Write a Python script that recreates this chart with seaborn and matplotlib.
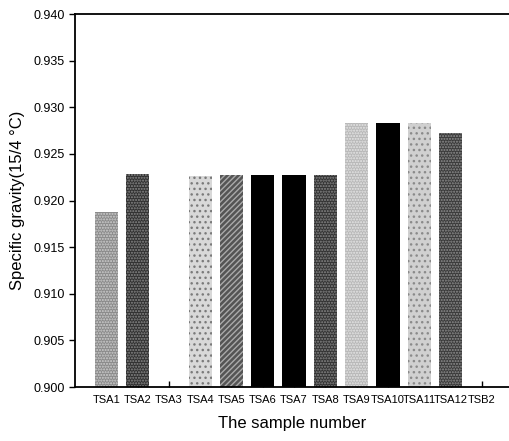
import matplotlib
matplotlib.use("Agg")
import matplotlib.pyplot as plt
import seaborn as sns
import numpy as np
import pandas as pd

samples = ["TSA1", "TSA2", "TSA3", "TSA4", "TSA5", "TSA6", "TSA7", "TSA8",
           "TSA9", "TSA10", "TSA11", "TSA12", "TSB2"]
gravity = [0.9188, 0.9228, 0.900, 0.9226, 0.9227, 0.9227, 0.9227, 0.9227,
           0.9283, 0.9283, 0.9283, 0.9273, 0.900]
fills = ["#8a8a8a", "#303030", "#ffffff", "#d8d8d8", "#555555", "#000000", "#000000",
         "#333333", "#b8b8b8", "#000000", "#d0d0d0", "#3a3a3a", "#ffffff"]
hatches = ["......", "......", "", "...", "//////", "", "", "......", "......", "", "...", "......", ""]
hatch_cols = ["#cfcfcf", "#8a8a8a", "#ffffff", "#7a7a7a", "#aaaaaa", "#000000", "#000000",
              "#888888", "#e6e6e6", "#000000", "#8a8a8a", "#909090", "#ffffff"]
yticks = [0.900, 0.905, 0.910, 0.915, 0.920, 0.925, 0.930, 0.935, 0.940]

sns.set_style("ticks")
plt.rcParams['font.family'] = ['Liberation Sans', 'DejaVu Sans']
plt.rcParams['hatch.linewidth'] = 1.0
plt.rcParams['text.color'] = 'black'
plt.rcParams['axes.labelcolor'] = 'black'
plt.rcParams['xtick.color'] = 'black'
plt.rcParams['ytick.color'] = 'black'

df = pd.DataFrame({"sample": samples, "gravity": gravity})
fig = plt.figure(figsize=(5.10, 4.41), dpi=100)
ax = fig.add_axes([0.147, 0.1224, 0.853, 0.8456])

sns.barplot(data=df, x="sample", y="gravity", hue="sample",
            palette=dict(zip(samples, fills)), legend=False, width=0.74,
            ax=ax, linewidth=0, saturation=1)

for p, h, hc in zip(ax.patches, hatches, hatch_cols):
    if h:
        p.set_hatch(h)
        p.set_edgecolor(hc)
        p.set_linewidth(0)

ax.set_ylim(0.900, 0.940)
ax.set_xlim(-1.0, 12.9)
ax.set_yticks(yticks)
ax.set_yticklabels([f"{t:.3f}" for t in yticks], fontsize=9)
ax.set_xticks(range(len(samples)))
ax.set_xticklabels(samples, fontsize=8.0)
ax.tick_params(axis='x', direction='in', length=4, width=1, pad=6, colors='black')
ax.tick_params(axis='y', direction='out', length=4, width=1, colors='black')
for s in ["left", "bottom", "top"]:
    ax.spines[s].set_linewidth(1.3)
    ax.spines[s].set_color("black")
ax.spines["right"].set_visible(False)
ax.set_xlabel("The sample number", fontsize=12, labelpad=8, color='black')
ax.set_ylabel("Specific gravity(15/4 °C)", fontsize=12, labelpad=6, color='black')

fig.savefig("out.png", dpi=100)
